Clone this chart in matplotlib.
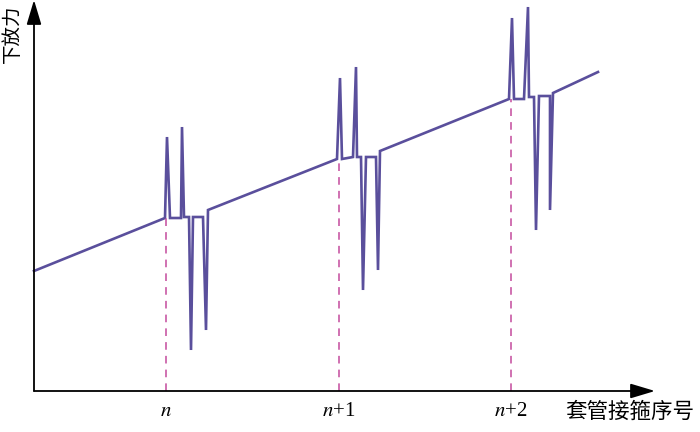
import numpy as np
import matplotlib.pyplot as plt

plt.rcParams['mathtext.fontset'] = 'stix'

# running force curve (position along well, hook load)
pos = [0, 131, 133, 136, 147, 148, 150, 155, 157, 159, 169, 172, 174,
       303, 306, 308, 319, 322, 323, 327, 329, 332, 342, 344, 346,
       475, 478, 480, 490, 494, 495, 500, 502, 505, 516, 516, 519, 564]
force = [120, 173, 254, 173, 173, 264, 174, 174, 41, 174, 174, 61, 181,
         232, 313, 232, 234, 324, 234, 234, 101, 234, 234, 121, 240,
         292, 373, 292, 292, 384, 294, 294, 161, 295, 295, 181, 298, 319]

# collar positions and the baseline force there
collar_pos = [132, 305, 477]
collar_force = [173, 232, 292]
collar_labels = ['$n$', '$n$+1', '$n$+2']

fig = plt.figure(figsize=(7, 4.32), dpi=100)
ax = fig.add_axes([34/700, 41/432, 621/700, 391/432])
ax.set_xlim(0, 621)
ax.set_ylim(0, 391)
ax.axis('off')

ax.plot(pos, force, color='#5a4f9c', lw=1.9, solid_joinstyle='miter', clip_on=False)
for xc, yc in zip(collar_pos, collar_force):
    ax.plot([xc, xc], [0, yc], color='#c44a9c', lw=1.1, dashes=(5, 4))

# axes arrows
arr = dict(arrowstyle='-|>,head_length=1.5,head_width=0.45', color='black', lw=1.3,
           shrinkA=0, shrinkB=0)
ax.annotate('', xy=(621, 0), xytext=(0, 0), arrowprops=arr, annotation_clip=False)
ax.annotate('', xy=(0, 391), xytext=(0, 0), arrowprops=arr, annotation_clip=False)

for xc, lab in zip(collar_pos, collar_labels):
    ax.text(xc, -21, lab, ha='center', va='center', fontsize=15,
            family='Liberation Serif')

ax.text(596, -21, '套管接箍序号', ha='center', va='center', fontsize=15.5,
        family=['Noto Sans CJK SC', 'DejaVu Sans'])
ax.text(-22, 357, '下放力', ha='center', va='center', fontsize=14, rotation=90,
        family=['Noto Sans CJK SC', 'DejaVu Sans'])

fig.savefig('out.png', dpi=100)
